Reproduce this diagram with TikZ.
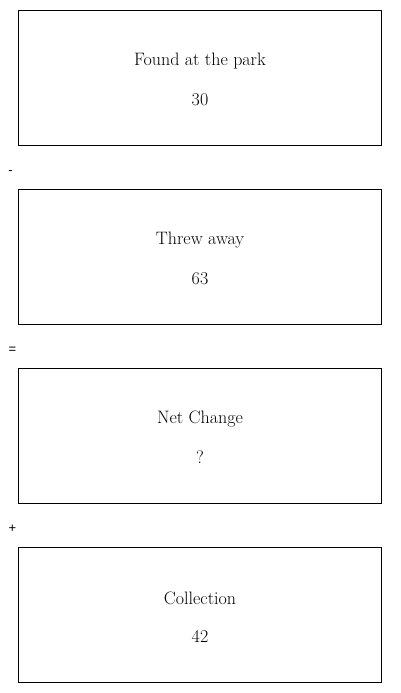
\documentclass[tikz,border=0pt]{standalone}
\usepackage{fontspec}
\newfontfamily\symfont{Liberation Sans}
\begin{document}
\begin{tikzpicture}[x=1pt,y=-1pt,
  box/.style={draw,line width=0.9pt,minimum width=363pt,minimum height=135pt,inner sep=0pt,anchor=north west},
  lbl/.style={font=\fontsize{18}{21}\selectfont,inner sep=0pt},
  op/.style={font=\symfont\fontsize{13}{15}\selectfont,inner sep=0pt}]
\useasboundingbox (0,0) rectangle (400,693);
\node[box] (b1) at (18,10) {};
\node[box] (b2) at (18,189) {};
\node[box] (b3) at (18,368) {};
\node[box] (b4) at (18,547) {};
\node[lbl] (t1) at (200,61.5) {Found at the park};
\node[lbl] (n1) at (200,99.5) {30};
\node[lbl] (t2) at (200,240.5) {Threw away};
\node[lbl] (n2) at (200,278.5) {63};
\node[lbl] (t3) at (200,419.5) {Net Change};
\node[lbl] (n3) at (200,457.5) {?};
\node[lbl] (t4) at (200,598.5) {Collection};
\node[lbl] (n4) at (200,636.5) {42};
\node[op] (o1) at (10.5,172.5) {-};
\node[op] (o2) at (12.5,350) {=};
\node[op] (o3) at (12.5,528.5) {+};
\end{tikzpicture}
\end{document}
